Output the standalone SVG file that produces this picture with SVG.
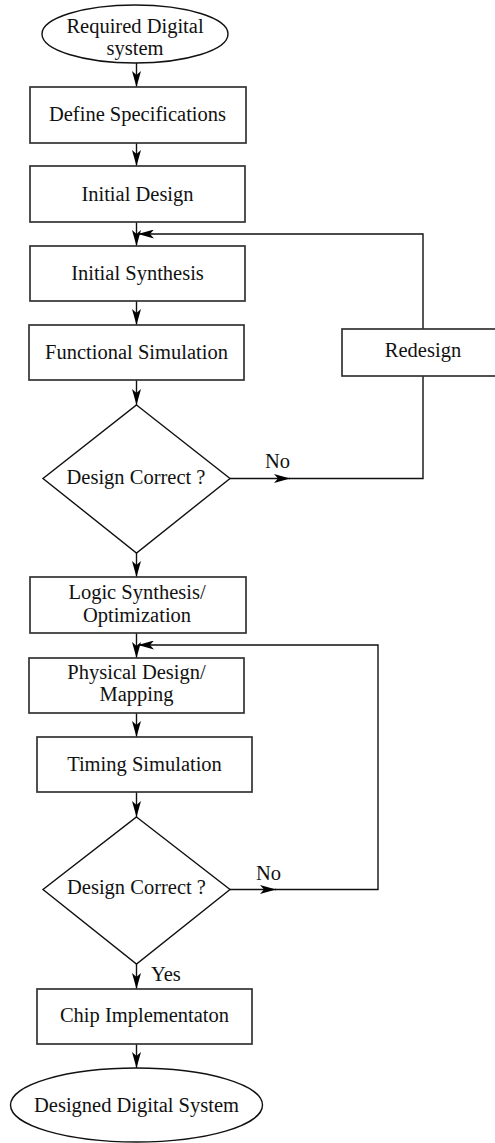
<svg xmlns="http://www.w3.org/2000/svg" width="495" height="1143" viewBox="0 0 495 1143">
<style>
.box{fill:#fff;stroke:#333;stroke-width:1.7}
.shape{fill:#fff;stroke:#111;stroke-width:1.4}
.t{font-family:"Liberation Serif","Times New Roman",serif;font-size:20.5px;fill:#111;text-anchor:middle}
.l{font-family:"Liberation Serif","Times New Roman",serif;font-size:20.5px;fill:#111}
.c{fill:none;stroke:#111;stroke-width:1.4}
</style>
<defs>
<marker id="ah" markerUnits="userSpaceOnUse" markerWidth="16" markerHeight="9" refX="16" refY="4.5" orient="auto" viewBox="0 0 16 9">
<path d="M0,0 L16,4.5 L0,9 L4,4.5 z" fill="#000"/>
</marker>
</defs>
<rect width="495" height="1143" fill="#fff"/>
<g id="connectors">
<line class="c" x1="136.5" y1="63" x2="136.5" y2="87" marker-end="url(#ah)"/>
<line class="c" x1="136.5" y1="143" x2="136.5" y2="166" marker-end="url(#ah)"/>
<line class="c" x1="136.5" y1="222" x2="136.5" y2="246" marker-end="url(#ah)"/>
<line class="c" x1="136.5" y1="301" x2="136.5" y2="325" marker-end="url(#ah)"/>
<line class="c" x1="136.5" y1="380" x2="136.5" y2="405" marker-end="url(#ah)"/>
<line class="c" x1="136.5" y1="553" x2="136.5" y2="577" marker-end="url(#ah)"/>
<line class="c" x1="136.5" y1="633" x2="136.5" y2="658" marker-end="url(#ah)"/>
<line class="c" x1="136.5" y1="713" x2="136.5" y2="737" marker-end="url(#ah)"/>
<line class="c" x1="136.5" y1="792" x2="136.5" y2="817" marker-end="url(#ah)"/>
<line class="c" x1="136.5" y1="964" x2="136.5" y2="989" marker-end="url(#ah)"/>
<line class="c" x1="136.5" y1="1044" x2="136.5" y2="1068" marker-end="url(#ah)"/>
<polyline class="c" points="423,329 423,234 138,234" marker-end="url(#ah)"/>
<line class="c" x1="230" y1="478.5" x2="290" y2="478.5" marker-end="url(#ah)"/>
<polyline class="c" points="289,478.5 423,478.5 423,376"/>
<line class="c" x1="230" y1="889.5" x2="276" y2="889.5" marker-end="url(#ah)"/>
<polyline class="c" points="275,889.5 378,889.5 378,645 138,645" marker-end="url(#ah)"/>
<text class="l" x="265" y="468">No</text>
<text class="l" x="256" y="880">No</text>
<text class="l" x="151" y="981">Yes</text>
</g>
<g id="start">
<ellipse class="shape" cx="135" cy="34" rx="93" ry="29"/>
<text class="t" x="135" y="33">Required Digital</text>
<text class="t" x="135" y="55">system</text>
</g>
<g id="define-specifications">
<rect class="box" x="30" y="87" width="216" height="56"/>
<text class="t" x="137.5" y="121">Define Specifications</text>
</g>
<g id="initial-design">
<rect class="box" x="30" y="166" width="215" height="56"/>
<text class="t" x="137.5" y="201">Initial Design</text>
</g>
<g id="initial-synthesis">
<rect class="box" x="30" y="246" width="215" height="55"/>
<text class="t" x="137.5" y="280">Initial Synthesis</text>
</g>
<g id="functional-simulation">
<rect class="box" x="29" y="325" width="215" height="55"/>
<text class="t" x="136.5" y="359">Functional Simulation</text>
</g>
<g id="decision-1">
<polygon class="shape" points="136.5,405 230,478.5 136.5,553 43,478.5"/>
<text class="t" x="136" y="484">Design Correct ?</text>
</g>
<g id="redesign">
<rect class="box" x="342" y="329" width="162" height="47"/>
<text class="t" x="423" y="357">Redesign</text>
</g>
<g id="logic-synthesis">
<rect class="box" x="30" y="577" width="216" height="56"/>
<text class="t" x="137" y="599">Logic Synthesis/</text>
<text class="t" x="137" y="622">Optimization</text>
</g>
<g id="physical-design">
<rect class="box" x="29" y="658" width="215" height="55"/>
<text class="t" x="136.5" y="679">Physical Design/</text>
<text class="t" x="136.5" y="701">Mapping</text>
</g>
<g id="timing-simulation">
<rect class="box" x="37" y="737" width="215" height="55"/>
<text class="t" x="144.5" y="771">Timing Simulation</text>
</g>
<g id="decision-2">
<polygon class="shape" points="136.5,817 230,889.5 136.5,964 43,889.5"/>
<text class="t" x="136.5" y="894">Design Correct ?</text>
</g>
<g id="chip-implementation">
<rect class="box" x="37" y="989" width="215" height="55"/>
<text class="t" x="144.5" y="1022">Chip Implementaton</text>
</g>
<g id="end">
<ellipse class="shape" cx="136.5" cy="1105" rx="126" ry="37"/>
<text class="t" x="136.5" y="1112">Designed Digital System</text>
</g>
</svg>
